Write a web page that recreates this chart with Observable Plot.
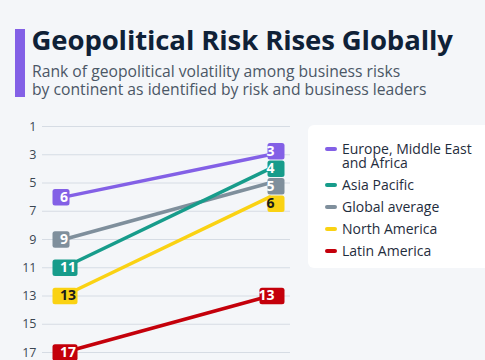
<!DOCTYPE html>
<html><head><meta charset="utf-8">
<script src="https://cdn.jsdelivr.net/npm/d3@7"></script>
<script src="https://cdn.jsdelivr.net/npm/@observablehq/plot@0.6"></script>
<style>
html,body{margin:0;padding:0;background:#f4f6f9;}
#wrap{position:relative;width:485px;height:360px;overflow:hidden;background:#f4f6f9;font-family:"Open Sans",sans-serif;}
#bar{position:absolute;left:15px;top:29px;width:10px;height:68px;background:#8360e6;}
#title{position:absolute;left:31.5px;top:25.5px;font-size:27.5px;font-weight:700;color:#0f2137;white-space:nowrap;line-height:1;letter-spacing:-0.1px;}
#subtitle{position:absolute;left:32px;top:61.5px;font-size:15.7px;line-height:18.5px;color:#4b5766;white-space:nowrap;}
#chart{position:absolute;left:0;top:110px;}
#legend{position:absolute;left:308px;top:125px;width:200px;height:143px;background:#ffffff;border-radius:6px;box-sizing:border-box;padding-top:17.3px;}
.item{position:relative;padding-left:34px;font-size:14px;line-height:14px;color:#1f2d3d;margin-bottom:8px;}
.sw{position:absolute;left:17px;top:5px;width:12px;height:4px;border-radius:2px;}
</style></head>
<body>
<div id="wrap">
  <div id="bar"></div>
  <div id="title">Geopolitical Risk Rises Globally</div>
  <div id="subtitle">Rank of geopolitical volatility among business risks<br>by continent as identified by risk and business leaders</div>
  <div id="chart"></div>
  <div id="legend"></div>
</div>
<script>
const periods = ["2022", "2023"];
const regions = ["Europe, Middle East and Africa", "Asia Pacific", "Global average", "North America", "Latin America"];
const legendLines = [["Europe, Middle East", "and Africa"], ["Asia Pacific"], ["Global average"], ["North America"], ["Latin America"]];
const rankBefore = [6, 11, 9, 13, 17];
const rankAfter = [3, 4, 5, 6, 13];
const colors = ["#8360e6", "#179c8b", "#7f8f9c", "#fad213", "#c4000b"];
const labelInk = ["#ffffff", "#ffffff", "#ffffff", "#1b1b1b", "#ffffff"];
const rankTicks = [1, 3, 5, 7, 9, 11, 13, 15, 17];
const drawOrder = [0, 2, 1, 3, 4];

const rows = regions.flatMap((region, i) => [
  {region, i, period: periods[0], rank: rankBefore[i]},
  {region, i, period: periods[1], rank: rankAfter[i]}
]);
const ordered = drawOrder.flatMap(i => rows.filter(r => r.i === i));
const left = ordered.filter(r => r.period === periods[0]);
const right = ordered.filter(r => r.period === periods[1]);

const plot = Plot.plot({
  width: 485, height: 250,
  marginLeft: 42, marginRight: 195, marginTop: 16, marginBottom: 8,
  style: {background: "transparent", fontFamily: "Open Sans", fontSize: "12.5px", color: "#3b4652", overflow: "visible"},
  x: {type: "point", domain: periods, padding: 0.1, axis: null},
  y: {domain: [1, 17], reverse: true, ticks: rankTicks, tickSize: 0, tickPadding: 6, label: null},
  color: {domain: regions, range: colors},
  marks: [
    Plot.ruleY(rankTicks, {stroke: "#d6dce4", strokeWidth: 1}),
    Plot.line(ordered, {x: "period", y: "rank", z: "region", stroke: "region", strokeWidth: 3.5}),
    Plot.text(left, {x: "period", y: "rank", text: d => String(d.rank), textAnchor: "start", dx: -3.5, fontWeight: 700, fontSize: 14, fill: "white"}),
    Plot.text(right, {x: "period", y: "rank", text: d => String(d.rank), textAnchor: "end", dx: 5, fontWeight: 700, fontSize: 14, fill: "white"})
  ]
});
document.getElementById("chart").appendChild(plot);

// legend
const legend = document.getElementById("legend");
regions.forEach((r, i) => {
  const it = document.createElement("div");
  it.className = "item";
  it.innerHTML = `<span class="sw" style="background:${colors[i]}"></span>` + legendLines[i].join("<br>");
  legend.appendChild(it);
});

// badges behind labels
const ys = plot.scale("y");
function spread(pos, s) {
  const idx = pos.map((p, k) => k).sort((a, b) => pos[a] - pos[b]);
  let clusters = idx.map(k => ({ks: [k], c: pos[k]}));
  let merged = true;
  while (merged) {
    merged = false;
    for (let j = 0; j < clusters.length - 1; j++) {
      const A = clusters[j], B = clusters[j + 1];
      const aEnd = A.c + (A.ks.length - 1) / 2 * s, bStart = B.c - (B.ks.length - 1) / 2 * s;
      if (bStart - aEnd < s) {
        const ks = A.ks.concat(B.ks);
        const c = d3.mean(ks, k => pos[k]) + 1.5;
        clusters.splice(j, 2, {ks, c});
        merged = true; break;
      }
    }
  }
  const out = pos.slice();
  clusters.forEach(C => C.ks.forEach((k, j) => { out[k] = C.c + (j - (C.ks.length - 1) / 2) * s; }));
  return out;
}
const svgBox = plot.getBoundingClientRect();
const groups = plot.querySelectorAll('g[aria-label="text"]');
[[groups[0], left, false], [groups[1], right, true]].forEach(([g, data, dodge]) => {
  if (!g) return;
  const texts = Array.from(g.querySelectorAll("text"));
  const base = data.map(d => ys.apply(d.rank));
  const pos = dodge ? spread(base, 17.5) : base;
  texts.forEach((t, k) => {
    const d = data[k];
    const shift = pos[k] - base[k];
    if (shift) t.setAttribute("transform", (t.getAttribute("transform") || "") + ` translate(0,${shift})`);
    t.setAttribute("fill", labelInk[d.i]);
    const r = t.getBoundingClientRect();
    const rect = document.createElementNS("http://www.w3.org/2000/svg", "rect");
    rect.setAttribute("x", r.left - svgBox.left - 4.5);
    rect.setAttribute("width", r.width + 9);
    rect.setAttribute("y", pos[k] - 8.25);
    rect.setAttribute("height", 16.5);
    rect.setAttribute("rx", 2.5);
    rect.setAttribute("fill", colors[d.i]);
    g.insertBefore(rect, t);
  });
});
</script>
</body></html>
